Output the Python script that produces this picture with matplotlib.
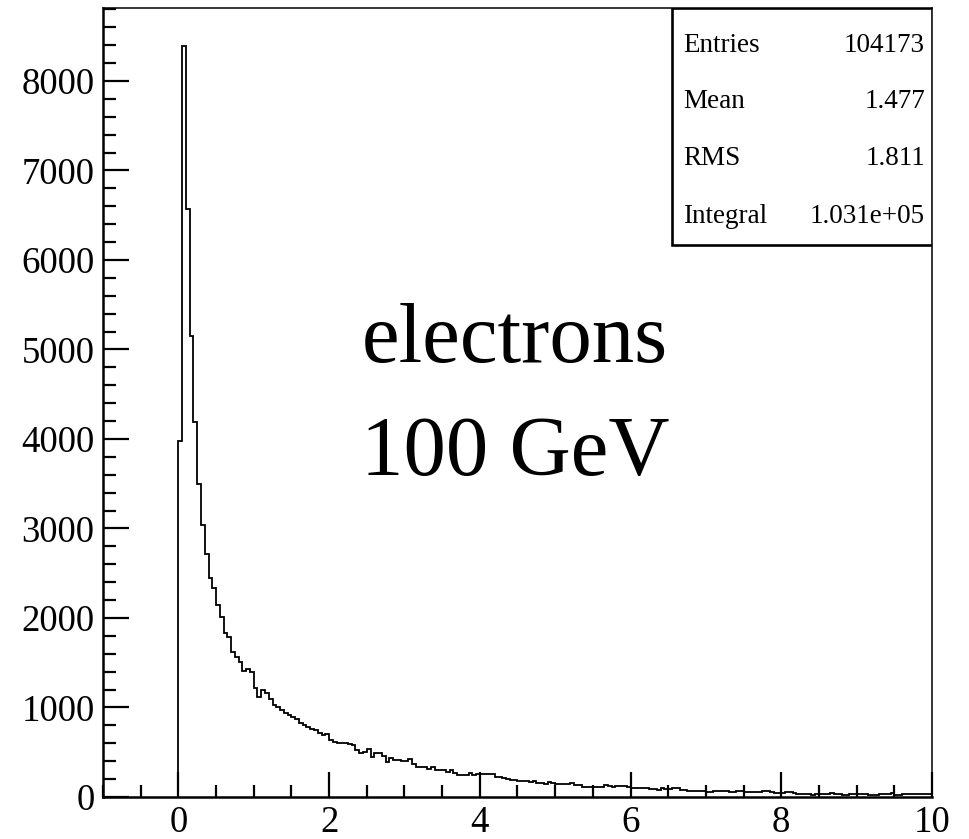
import numpy as np
import matplotlib
matplotlib.use("Agg")
import matplotlib.pyplot as plt
from matplotlib.patches import Rectangle
from matplotlib.ticker import MultipleLocator

# ---- data ----
bin_low = 0.0
bin_high = 10.0
counts = [
    3980, 8394, 6570, 5150, 4190, 3500, 3040, 2720, 2450, 2330,
    2140, 2010, 1830, 1785, 1620, 1565, 1510, 1410, 1430, 1395,
    1220, 1115, 1200, 1160, 1090, 1030, 1000, 975, 940, 915,
    890, 870, 830, 800, 780, 760, 750, 715, 690, 700,
    640, 615, 607, 605, 600, 595, 585, 525, 495, 500,
    536, 450, 495, 490, 458, 394, 430, 415, 410, 405,
    400, 420, 365, 340, 335, 330, 318, 338, 302, 300,
    298, 282, 302, 271, 250, 246, 245, 268, 250, 255,
    257, 255, 260, 262, 225, 220, 207, 200, 195, 185,
    182, 180, 178, 165, 180, 160, 153, 150, 165, 160,
    145, 145, 140, 142, 155, 135, 130, 108, 115, 115,
    112, 108, 110, 135, 120, 115, 120, 125, 127, 110,
    98, 100, 105, 100, 98, 92, 88, 78, 95, 90,
    92, 98, 95, 75, 75, 70, 67, 68, 65, 62,
    60, 58, 70, 68, 67, 65, 60, 58, 67, 64,
    52, 50, 55, 52, 60, 66, 62, 52, 45, 42,
    48, 55, 50, 41, 36, 34, 35, 32, 26, 30,
    34, 33, 36, 41, 34, 33, 27, 26, 28, 30,
    31, 30, 29, 26, 27, 26, 28, 34, 38, 41,
    27, 25, 30, 31, 29, 30, 32, 28, 30, 31,
]
stat_names = ["Entries", "Mean", "RMS", "Integral"]
stat_values = ["104173", "1.477", "1.811", "1.031e+05"]
label_lines = ["electrons", "100 GeV"]
x_range = (-1.0, 10.0)
y_max = 8815

edges = np.linspace(bin_low, bin_high, len(counts) + 1)

plt.rcParams['font.family'] = ['Liberation Serif', 'DejaVu Serif']

fig = plt.figure(figsize=(9.69, 8.39), dpi=100)
ax = fig.add_axes([0.1063, 0.0501, 0.8555, 0.9404])

ax.stairs(counts, edges, baseline=0, color='black', linewidth=1.3)

ax.set_xlim(*x_range)
ax.set_ylim(0, y_max)

ax.xaxis.set_major_locator(MultipleLocator(2))
ax.xaxis.set_minor_locator(MultipleLocator(0.5))
ax.yaxis.set_major_locator(MultipleLocator(1000))
ax.yaxis.set_minor_locator(MultipleLocator(200))

ax.tick_params(axis='both', which='both', direction='in', top=False, right=False,
               width=1.6, labelsize=26.5, colors='black')
ax.tick_params(axis='x', which='major', length=18, pad=6)
ax.tick_params(axis='x', which='minor', length=8.5)
ax.tick_params(axis='y', which='major', length=19, pad=6)
ax.tick_params(axis='y', which='minor', length=9)

for s in ['left', 'bottom']:
    ax.spines[s].set_linewidth(1.8)
for s in ['top', 'right']:
    ax.spines[s].set_linewidth(1.1)

# stats box
box = Rectangle((0.686, 0.70), 0.314, 0.30, transform=ax.transAxes,
                facecolor='white', edgecolor='black', linewidth=1.9, zorder=5)
ax.add_patch(box)
row_y = [0.953, 0.881, 0.809, 0.736]
for name, val, yy in zip(stat_names, stat_values, row_y):
    ax.text(0.6996, yy, name, transform=ax.transAxes, fontsize=19.5,
            ha='left', va='center', zorder=6)
    ax.text(0.9916, yy, val, transform=ax.transAxes, fontsize=19.5,
            ha='right', va='center', zorder=6)

ax.text(0.497, 0.551, label_lines[0], transform=ax.transAxes, fontsize=61,
        ha='center', va='baseline')
ax.text(0.497, 0.408, label_lines[1], transform=ax.transAxes, fontsize=61,
        ha='center', va='baseline')

fig.savefig("out.png", dpi=100)
